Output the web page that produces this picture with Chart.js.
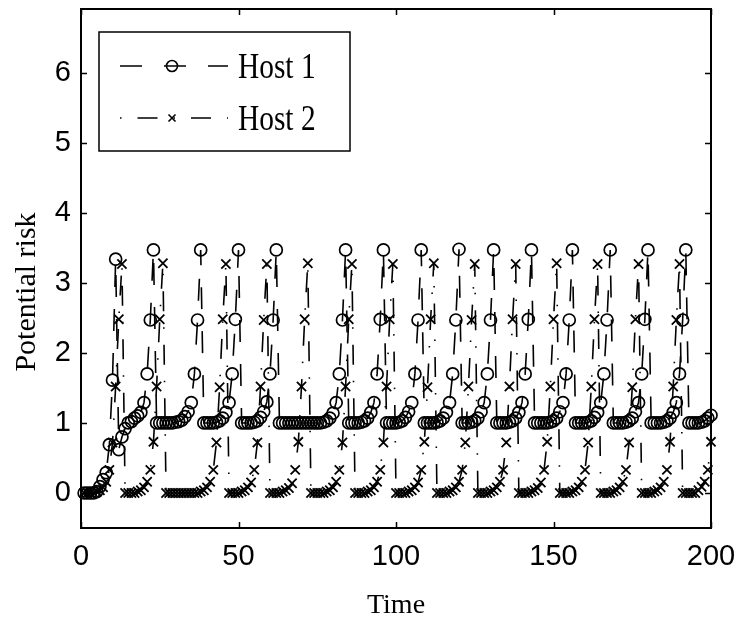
<!DOCTYPE html>
<html>
<head>
<meta charset="utf-8">
<title>Potential risk</title>
<script src="https://cdn.jsdelivr.net/npm/chart.js@4.4.1/dist/chart.umd.min.js"></script>
<style>
  html, body { margin: 0; padding: 0; background: #fff; }
  canvas { display: block; }
</style>
</head>
<body>
<canvas id="riskChart" width="741" height="625"></canvas>
<script>
// sample times 1..200
const time = Array.from({ length: 200 }, (_, i) => i + 1);

const xTicks = [0, 50, 100, 150, 200];
const yTicks = [0, 1, 2, 3, 4, 5, 6];

const host1Risk = [
    // t 1-23
    0, 0, 0, 0, 0.02, 0.09, 0.19, 0.29, 0.69, 1.61, 3.34, 0.62, 0.8, 0.92, 1.0, 1.02, 1.07, 1.1, 1.15, 1.29, 1.7, 2.47, 3.47,
    // t 24-38
    1.0, 1.0, 1.0, 1.0, 1.0, 1.0, 1.01, 1.02, 1.04, 1.09, 1.16, 1.29, 1.7, 2.47, 3.47,
    // t 39-50
    1.0, 1.0, 1.0, 1.0, 1.01, 1.03, 1.07, 1.15, 1.29, 1.7, 2.48, 3.47,
    // t 51-62
    1.0, 1.0, 1.0, 1.0, 1.01, 1.03, 1.08, 1.16, 1.3, 1.7, 2.47, 3.47,
    // t 63-84
    1.0, 1.0, 1.0, 1.0, 1.0, 1.0, 1.0, 1.0, 1.0, 1.0, 1.0, 1.0, 1.0, 1.0, 1.01, 1.03, 1.07, 1.14, 1.29, 1.7, 2.47, 3.47,
    // t 85-96
    1.0, 1.0, 1.0, 1.0, 1.01, 1.03, 1.07, 1.15, 1.29, 1.7, 2.48, 3.47,
    // t 97-108
    1.0, 1.0, 1.0, 1.0, 1.01, 1.03, 1.08, 1.16, 1.29, 1.7, 2.47, 3.47,
    // t 109-120
    1.0, 1.0, 1.0, 1.0, 1.01, 1.03, 1.07, 1.15, 1.29, 1.7, 2.47, 3.48,
    // t 121-131
    1.0, 1.0, 1.0, 1.01, 1.03, 1.07, 1.16, 1.29, 1.7, 2.47, 3.47,
    // t 132-143
    1.0, 1.0, 1.0, 1.0, 1.01, 1.03, 1.07, 1.15, 1.29, 1.7, 2.48, 3.47,
    // t 144-156
    1.0, 1.0, 1.0, 1.0, 1.0, 1.01, 1.03, 1.07, 1.16, 1.29, 1.7, 2.47, 3.47,
    // t 157-168
    1.0, 1.0, 1.0, 1.0, 1.01, 1.03, 1.08, 1.15, 1.29, 1.7, 2.47, 3.47,
    // t 169-180
    1.0, 1.0, 1.0, 1.0, 1.01, 1.03, 1.07, 1.16, 1.29, 1.7, 2.48, 3.47,
    // t 181-192
    1.0, 1.0, 1.0, 1.0, 1.01, 1.03, 1.07, 1.15, 1.29, 1.7, 2.47, 3.47,
    // t 193-200
    1.0, 1.0, 1.0, 1.0, 1.01, 1.03, 1.07, 1.11
];

const host2Risk = [
    // t 1-13
    0, 0, 0, 0, 0.02, 0.04, 0.08, 0.16, 0.33, 0.72, 1.52, 2.48, 3.27,
    // t 14-26
    0, 0, 0, 0, 0.02, 0.04, 0.08, 0.16, 0.33, 0.73, 1.52, 2.48, 3.28,
    // t 27-46
    0, 0, 0, 0, 0, 0, 0, 0, 0, 0, 0, 0.02, 0.04, 0.08, 0.16, 0.33, 0.72, 1.51, 2.48, 3.27,
    // t 47-59
    0, 0, 0, 0, 0.02, 0.04, 0.08, 0.15, 0.33, 0.72, 1.52, 2.47, 3.27,
    // t 60-72
    0, 0, 0, 0, 0.02, 0.04, 0.07, 0.14, 0.33, 0.73, 1.52, 2.48, 3.28,
    // t 73-86
    0, 0, 0, 0, 0, 0.02, 0.04, 0.08, 0.16, 0.33, 0.72, 1.52, 2.48, 3.27,
    // t 87-99
    0, 0, 0, 0, 0.02, 0.04, 0.08, 0.16, 0.33, 0.72, 1.52, 2.48, 3.27,
    // t 100-112
    0, 0, 0, 0, 0.02, 0.04, 0.08, 0.15, 0.33, 0.73, 1.51, 2.48, 3.28,
    // t 113-125
    0, 0, 0, 0, 0.02, 0.04, 0.08, 0.16, 0.33, 0.72, 1.52, 2.47, 3.27,
    // t 126-138
    0, 0, 0, 0, 0.02, 0.04, 0.08, 0.16, 0.33, 0.72, 1.52, 2.48, 3.27,
    // t 139-151
    0, 0, 0, 0, 0.02, 0.04, 0.07, 0.15, 0.33, 0.73, 1.52, 2.48, 3.28,
    // t 152-164
    0, 0, 0, 0, 0.02, 0.04, 0.08, 0.16, 0.33, 0.72, 1.52, 2.48, 3.27,
    // t 165-177
    0, 0, 0, 0, 0.02, 0.04, 0.08, 0.16, 0.33, 0.72, 1.51, 2.48, 3.27,
    // t 178-190
    0, 0, 0, 0, 0.02, 0.04, 0.08, 0.16, 0.33, 0.73, 1.52, 2.47, 3.27,
    // t 191-200
    0, 0, 0, 0, 0, 0.04, 0.09, 0.16, 0.33, 0.73
];

const host1Dash = [22, 22];
const host2Dash = [20, 16, 1.5, 16];

const serif = '"Liberation Serif", "Times New Roman", serif';

// box, inward ticks on all four sides, y title and the legend panel
const framePlugin = {
    id: 'frame',
    afterDraw(chart) {
        const ctx = chart.ctx;
        const area = chart.chartArea;
        const xScale = chart.scales.x;
        const yScale = chart.scales.y;
        const tick = 6;

        ctx.save();
        ctx.strokeStyle = '#000';
        ctx.lineWidth = 1.5;
        ctx.beginPath();
        xTicks.forEach(v => {
            const px = Math.round(xScale.getPixelForValue(v)) + 0.5;
            ctx.moveTo(px, area.bottom);
            ctx.lineTo(px, area.bottom - tick);
            ctx.moveTo(px, area.top);
            ctx.lineTo(px, area.top + tick);
        });
        yTicks.forEach(v => {
            const py = Math.round(yScale.getPixelForValue(v)) + 0.5;
            ctx.moveTo(area.left, py);
            ctx.lineTo(area.left + tick, py);
            ctx.moveTo(area.right, py);
            ctx.lineTo(area.right - tick, py);
        });
        ctx.stroke();

        ctx.lineWidth = 2;
        ctx.strokeRect(area.left, area.top, area.right - area.left, area.bottom - area.top);

        // y axis title, sits a little below the axis middle
        ctx.save();
        ctx.fillStyle = '#000';
        ctx.font = '30px ' + serif;
        ctx.textAlign = 'center';
        ctx.textBaseline = 'middle';
        ctx.translate(27, 292);
        ctx.rotate(-Math.PI / 2);
        ctx.fillText('Potential risk', 0, 0);
        ctx.restore();

        // legend
        const box = { x: 99, y: 32, w: 251, h: 119 };
        ctx.fillStyle = '#fff';
        ctx.fillRect(box.x, box.y, box.w, box.h);
        ctx.lineWidth = 1.5;
        ctx.strokeRect(box.x, box.y, box.w, box.h);

        const rows = [
            { label: 'Host 1', y: 66, dash: host1Dash, marker: 'circle' },
            { label: 'Host 2', y: 118, dash: [1.5, 16, 20, 16], marker: 'cross' }
        ];
        rows.forEach(row => {
            ctx.lineWidth = 1.6;
            ctx.setLineDash(row.dash);
            ctx.beginPath();
            ctx.moveTo(120, row.y);
            ctx.lineTo(228, row.y);
            ctx.stroke();
            ctx.setLineDash([]);

            ctx.beginPath();
            if (row.marker === 'circle') {
                ctx.arc(172, row.y, 5.5, 0, Math.PI * 2);
            } else {
                ctx.moveTo(168.5, row.y - 3.5);
                ctx.lineTo(175.5, row.y + 3.5);
                ctx.moveTo(175.5, row.y - 3.5);
                ctx.lineTo(168.5, row.y + 3.5);
            }
            ctx.stroke();

            ctx.save();
            ctx.fillStyle = '#000';
            ctx.font = '35px ' + serif;
            ctx.textBaseline = 'alphabetic';
            ctx.translate(238, row.y + 12);
            ctx.scale(0.84, 1);
            ctx.fillText(row.label, 0, 0);
            ctx.restore();
        });
        ctx.restore();
    }
};

const ctx = document.getElementById('riskChart').getContext('2d');

new Chart(ctx, {
    type: 'line',
    data: {
        datasets: [
            {
                label: 'Host 1',
                data: time.map((t, i) => ({ x: t, y: host1Risk[i] })),
                borderColor: '#000',
                borderWidth: 1.6,
                borderDash: host1Dash,
                pointStyle: 'circle',
                pointRadius: 6,
                pointBorderWidth: 1.7,
                pointBorderColor: '#000',
                pointBackgroundColor: 'rgba(0,0,0,0)',
                tension: 0,
                fill: false,
                clip: false
            },
            {
                label: 'Host 2',
                data: time.map((t, i) => ({ x: t, y: host2Risk[i] })),
                borderColor: '#000',
                borderWidth: 1.6,
                borderDash: host2Dash,
                pointStyle: 'crossRot',
                pointRadius: 6.5,
                pointBorderWidth: 1.8,
                pointBorderColor: '#000',
                pointBackgroundColor: 'rgba(0,0,0,0)',
                tension: 0,
                fill: false,
                clip: false
            }
        ]
    },
    options: {
        responsive: false,
        devicePixelRatio: 1,
        animation: false,
        events: [],
        layout: {
            padding: { top: 9, right: 30, bottom: 0, left: 0 }
        },
        plugins: {
            legend: { display: false },
            tooltip: { enabled: false }
        },
        scales: {
            x: {
                type: 'linear',
                min: 0,
                max: 200,
                afterBuildTicks: scale => {
                    scale.ticks = xTicks.map(v => ({ value: v }));
                },
                afterFit: scale => {
                    scale.height = 97;
                    scale.paddingLeft = 0;
                    scale.paddingRight = 0;
                },
                grid: { display: false, drawTicks: false },
                border: { display: false },
                ticks: {
                    color: '#000',
                    padding: 12,
                    maxRotation: 0,
                    font: { family: '"Liberation Sans", Arial, sans-serif', size: 29 }
                },
                title: {
                    display: true,
                    text: 'Time',
                    color: '#000',
                    padding: { top: 0, bottom: 3 },
                    font: { family: serif, size: 28 }
                }
            },
            y: {
                type: 'linear',
                min: -0.5,
                max: 6.91,
                afterBuildTicks: scale => {
                    scale.ticks = yTicks.map(v => ({ value: v }));
                },
                afterFit: scale => {
                    scale.width = 81;
                    scale.paddingTop = 0;
                    scale.paddingBottom = 0;
                },
                grid: { display: false, drawTicks: false },
                border: { display: false },
                ticks: {
                    color: '#000',
                    padding: 10,
                    font: { family: '"Liberation Sans", Arial, sans-serif', size: 29 }
                }
            }
        }
    },
    plugins: [framePlugin]
});
</script>
</body>
</html>
